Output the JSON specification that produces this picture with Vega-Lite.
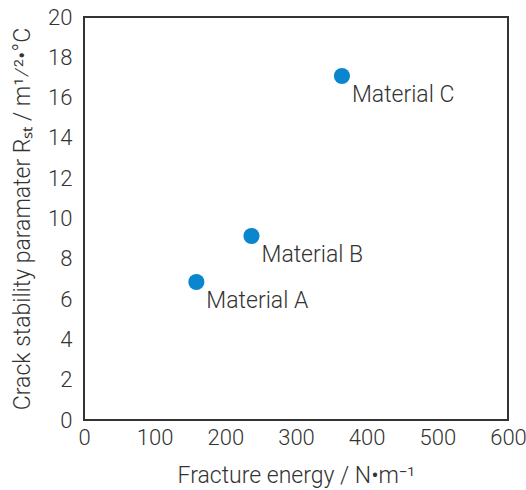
{
  "$schema": "https://vega.github.io/schema/vega-lite/v6.json",
  "width": 424,
  "height": 403,
  "autosize": "none",
  "padding": {"left": 84, "top": 17, "right": 18, "bottom": 70},
  "background": "white",
  "config": {
    "view": {"stroke": "#333333", "strokeWidth": 2},
    "font": "Roboto",
    "axis": {
      "grid": false,
      "domain": false,
      "ticks": false,
      "labelFont": "Roboto",
      "labelFontSize": 22,
      "labelFontWeight": 300,
      "labelColor": "#333333",
      "labelFlush": false,
      "labelOverlap": false,
      "titleFont": "Roboto",
      "titleFontSize": 23,
      "titleFontWeight": 300,
      "titleColor": "#333333"
    }
  },
  "data": {
    "values": [
      {"material": "Material A", "energy": 159, "rst": 6.85},
      {"material": "Material B", "energy": 237, "rst": 9.13},
      {"material": "Material C", "energy": 365, "rst": 17.07}
    ]
  },
  "encoding": {
    "x": {
      "field": "energy",
      "type": "quantitative",
      "scale": {"domain": [0, 600], "nice": false},
      "axis": {
        "values": [0, 100, 200, 300, 400, 500, 600],
        "labelPadding": 7,
        "title": "Fracture energy / N•m⁻¹",
        "titleY": 62,
        "titleBaseline": "alphabetic"
      }
    },
    "y": {
      "field": "rst",
      "type": "quantitative",
      "scale": {"domain": [0, 20], "nice": false},
      "axis": {
        "values": [0, 2, 4, 6, 8, 10, 12, 14, 16, 18, 20],
        "labelPadding": 12,
        "title": "Crack stability paramater Rₛₜ / m¹⁄²•°C",
        "titleX": -62,
        "titleBaseline": "middle"
      }
    }
  },
  "layer": [
    {
      "mark": {"type": "circle", "size": 260, "opacity": 1, "color": "#0a86cf"}
    },
    {
      "mark": {
        "type": "text",
        "align": "left",
        "baseline": "alphabetic",
        "dx": 10,
        "dy": 26,
        "fontSize": 23,
        "fontWeight": 300,
        "font": "Roboto",
        "color": "#333333"
      },
      "encoding": {"text": {"field": "material"}}
    }
  ]
}
